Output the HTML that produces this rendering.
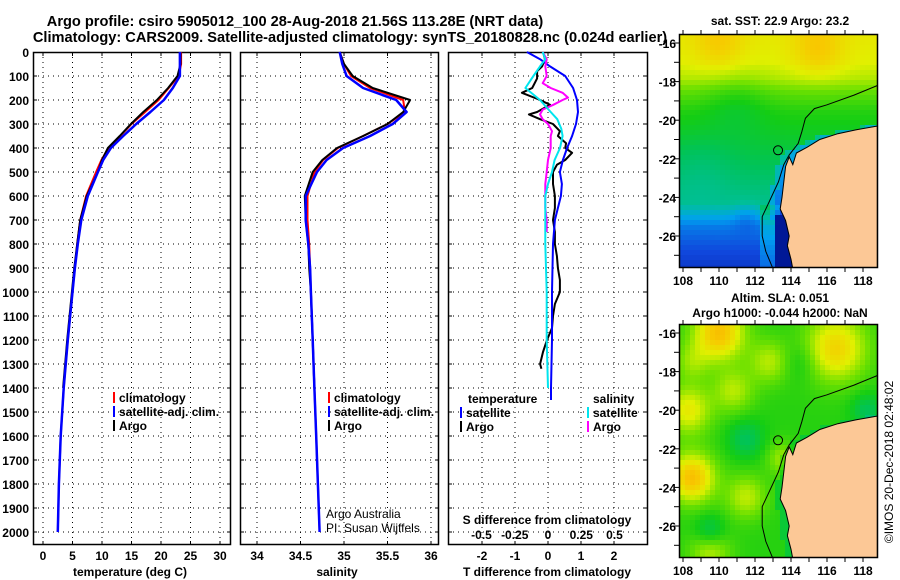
<!DOCTYPE html>
<html><head><meta charset="utf-8">
<style>
html,body{margin:0;padding:0;background:#fff;}
svg{display:block;font-family:"Liberation Sans",Arial,sans-serif;}
.b{font-weight:bold;font-size:12px;fill:#000;}
.t{font-weight:bold;font-size:14.6px;fill:#000;}
</style></head>
<body>
<svg id="s" width="900" height="580" viewBox="0 0 900 580" xmlns="http://www.w3.org/2000/svg">
<text class="t" x="295" y="26" text-anchor="middle">Argo profile: csiro 5905012_100 28-Aug-2018 21.56S 113.28E (NRT data)</text>
<text class="t" x="350" y="42" text-anchor="middle">Climatology: CARS2009. Satellite-adjusted climatology: synTS_20180828.nc (0.024d earlier)</text>
<g id="g"></g>
</svg>
<script>
// ---- data ----
const depths = [0,50,100,150,200,250,300,350,400,450,500,600,700,800,900,1000,1200,1400,1600,1800,2000];
const tempClim = [23.4,23.4,23.0,21.3,19.6,17.3,15.0,13.1,11.1,9.9,9.0,7.3,6.3,5.8,5.4,5.0,4.2,3.5,3.0,2.7,2.5];
const tempSat  = [23.2,23.2,23.2,22.0,20.5,18.2,15.8,13.6,11.5,10.2,9.3,7.6,6.5,5.9,5.4,5.0,4.2,3.5,3.0,2.7,2.5];
const argoDepths = [0,50,100,150,200,250,300,350,400,450,500,600,700,800,900,1000,1200,1400];
const tempArgo = [23.3,23.3,22.8,21.2,19.3,17.0,14.9,13.0,11.0,10.0,9.3,7.4,6.3,5.8,5.3,4.9,4.1,3.4];
const salClim = [34.95,35.0,35.08,35.3,35.68,35.7,35.5,35.22,34.93,34.76,34.66,34.58,34.58,34.6,34.61,34.62,34.64,34.66,34.68,34.70,34.72];
const salSat  = [34.95,34.98,35.03,35.22,35.6,35.72,35.56,35.3,34.99,34.8,34.69,34.56,34.56,34.59,34.61,34.62,34.64,34.66,34.68,34.70,34.72];
const salArgo = [34.95,35.0,35.1,35.33,35.76,35.68,35.5,35.22,34.92,34.75,34.64,34.55,34.56,34.59,34.6,34.62,34.64,34.66];
const dDepthsT = [0,30,60,100,150,200,250,300,350,400,450,500,550,600,650,700,800,1000,1200,1400,1450];
const dTempSat = [-0.64,-0.24,0.06,0.52,0.76,0.88,0.91,0.85,0.73,0.58,0.45,0.36,0.42,0.39,0.3,0.21,0.15,0.12,0.12,0.09,0.09];
const dDepthsA = [0,30,60,80,110,150,170,200,220,250,260,280,300,330,350,380,400,420,450,470,500,550,600,650,700,750,800,850,900,950,1000,1050,1100,1150,1200,1250,1300,1320];
const dTempArgo = [-0.15,-0.09,-0.18,-0.33,-0.33,-0.48,-0.79,-0.24,0.06,-0.33,-0.58,-0.24,0.15,0.36,0.3,0.55,0.52,0.73,0.52,0.27,0.15,0.15,0.21,0.21,0.15,0.21,0.21,0.27,0.3,0.36,0.36,0.21,0.15,0.12,-0.03,-0.15,-0.24,-0.2];
const dDepthsS = [0,30,60,100,150,200,250,280,320,350,400,450,500,550,600,700,800,1000,1200,1400];
const dSalSat = [-0.04,-0.02,-0.06,-0.11,-0.17,-0.06,0.02,0.07,0.1,0.11,0.09,0.05,0.03,0.0,-0.02,-0.02,-0.02,-0.01,-0.01,0.0];
const dDepthsSA = [0,30,60,100,130,150,170,190,200,220,240,260,280,300,330,350,400,450,500,550,600,650,700,750];
const dSalArgo = [-0.04,-0.01,-0.02,-0.01,-0.04,0.02,0.11,0.15,0.11,0.04,-0.04,-0.06,-0.04,0.0,0.03,0.02,0.02,0.0,-0.01,-0.02,-0.02,-0.02,-0.01,-0.01];
const depthTicks = [0,100,200,300,400,500,600,700,800,900,1000,1100,1200,1300,1400,1500,1600,1700,1800,1900,2000];
const tempTicks = [0,5,10,15,20,25,30];
const salTicks = [34,34.5,35,35.5,36];
const dtTicks = [-2,-1,0,1,2];
const dsTicks = [-0.5,-0.25,0,0.25,0.5];
const dsTickLabels = ['-0.5','-0.25','0','0.25','0.5'];
const latTicks = [-16,-18,-20,-22,-24,-26];
const lonTicks = [108,110,112,114,116,118];

const NS='http://www.w3.org/2000/svg';
const G=document.getElementById('g');
function el(tag,attrs,parent,txt){const e=document.createElementNS(NS,tag);for(const k in attrs)e.setAttribute(k,attrs[k]);if(txt!==undefined)e.textContent=txt;(parent||G).appendChild(e);return e;}
const yD = d => 52 + 0.24*d;
const xT = v => 43 + 5.9*v;
const xS = v => 257 + 87*(v-34);
const xDT = v => 548 + 33*v;
const xDS = v => 548 + 133*v;

function panel(x0,x1,name,grid){
  const g=el('g',{});
  
  
  depthTicks.slice(1).forEach(d=>{
    const l=el('line',{x1:x0,x2:x1,y1:yD(d),y2:yD(d),stroke:'#000','stroke-width':1,'stroke-dasharray':'1,4'},g);
    
    
    el('line',{x1:x0,x2:x0+4,y1:yD(d),y2:yD(d),stroke:'#000'},g);
    el('line',{x1:x1-4,x2:x1,y1:yD(d),y2:yD(d),stroke:'#000'},g);
  });
  grid.forEach(x=>{
    const l=el('line',{x1:x,x2:x,y1:52,y2:545,stroke:'#000','stroke-width':1,'stroke-dasharray':'1,4'},g);
    
    
    el('line',{x1:x,x2:x,y1:52,y2:56,stroke:'#000'},g);
    el('line',{x1:x,x2:x,y1:541,y2:545,stroke:'#000'},g);
  });
  const r=el('rect',{x:x0+0.5,y:52.5,width:x1-x0-1,height:492,fill:'none',stroke:'#000','stroke-width':1.5},g);
  
  
  return g;
}
function line(xs,ds,fx,color,w,name,parent){
  const pts=xs.map((v,i)=>fx(v).toFixed(1)+','+yD(ds[i]).toFixed(1)).join(' ');
  const p=el('polyline',{points:pts,fill:'none',stroke:color,'stroke-width':w,'stroke-linejoin':'round'},parent);
  
  
}
function txt(x,y,s,anchor,cls,name,parent,extra){
  const t=el('text',Object.assign({x:x,y:y,'text-anchor':anchor||'start',class:cls||'b'},extra||{}),parent,s);
  
  
  return t;
}
depthTicks.forEach(d=>{txt(29,yD(d)+5,String(d),'end','b','depth-tick-label');});

const p1=panel(33,231,'temperature-panel',tempTicks.map(xT));
line(tempClim,depths,xT,'#ff0000',2,'temperature-climatology-line',p1);
line(tempArgo,argoDepths,xT,'#000',2,'temperature-argo-line',p1);
line(tempSat,depths,xT,'#0000ff',2.5,'temperature-satellite-line',p1);
tempTicks.forEach(v=>txt(xT(v),560,String(v),'middle','b','temperature-tick-label'));
txt(130,576,'temperature (deg C)','middle','b','x-axis-title-temperature');

const p2=panel(240,439,'salinity-panel',salTicks.map(xS));
line(salClim,depths,xS,'#ff0000',2,'salinity-climatology-line',p2);
line(salArgo,argoDepths,xS,'#000',2,'salinity-argo-line',p2);
line(salSat,depths,xS,'#0000ff',2.5,'salinity-satellite-line',p2);
salTicks.forEach(v=>txt(xS(v),560,String(v),'middle','b','salinity-tick-label'));
txt(337,576,'salinity','middle','b','x-axis-title-salinity');
txt(326,518,'Argo Australia','start','b','credit-argo-australia',null,{style:'font-weight:normal'});
txt(326,532,'PI: Susan Wijffels','start','b','credit-pi',null,{style:'font-weight:normal'});

function legend(x,y,color,label,name){
  const g=el('g',{});
  
  
  el('rect',{x:x,y:y-10,width:2,height:11,fill:color},g);
  txt(x+6,y,label,'start','b',name+'-label',g);
}
[[113,'#ff0000','climatology'],[113,'#0000ff','satellite-adj. clim.'],[113,'#000','Argo']].forEach((a,i)=>legend(a[0],402+i*14,a[1],a[2],'temp-legend-entry'));
[[328,'#ff0000','climatology'],[328,'#0000ff','satellite-adj. clim.'],[328,'#000','Argo']].forEach((a,i)=>legend(a[0],402+i*14,a[1],a[2],'sal-legend-entry'));

const p3=panel(448,648,'difference-panel',dtTicks.map(xDT));
line(dTempArgo,dDepthsA,xDT,'#000',2,'temp-diff-argo-line',p3);
line(dTempSat,dDepthsT,xDT,'#0000ff',2,'temp-diff-satellite-line',p3);
line(dSalArgo,dDepthsSA,xDS,'#ff00ff',2,'sal-diff-argo-line',p3);
line(dSalSat,dDepthsS,xDS,'#00e5ee',2,'sal-diff-satellite-line',p3);
txt(468,403,'temperature','start','b','legend-heading-temperature');
txt(593,403,'salinity','start','b','legend-heading-salinity');
legend(460,417,'#0000ff','satellite','diff-legend-temp-satellite');
legend(460,431,'#000','Argo','diff-legend-temp-argo');
legend(587,417,'#00e5ee','satellite','diff-legend-sal-satellite');
legend(587,431,'#ff00ff','Argo','diff-legend-sal-argo');
txt(547,524,'S difference from climatology','middle','b','s-diff-axis-title');
dsTicks.forEach((v,i)=>txt(xDS(v),539,dsTickLabels[i],'middle','b','s-diff-tick-label'));
dtTicks.forEach(v=>txt(xDT(v),560,String(v),'middle','b','t-diff-tick-label'));
txt(547,576,'T difference from climatology','middle','b','t-diff-axis-title');

// ---- maps ----
const coast=[[118.8,-20.3],[117.6,-20.5],[116.6,-20.7],[115.6,-21.0],[114.9,-21.4],[114.3,-21.7],[114.1,-22.3],[113.9,-21.9],[113.7,-22.4],[113.6,-23.2],[113.5,-24.0],[113.4,-24.6],[113.7,-25.2],[113.9,-26.0],[113.8,-26.5],[114.0,-27.2],[114.1,-27.7],[118.8,-27.7]];
const shelf=[[118.8,-18.2],[117.5,-18.7],[116,-19.2],[115.3,-19.4],[114.8,-19.9],[114.6,-20.6],[114.4,-21.2],[113.9,-21.8],[113.6,-22.3],[113.3,-23.2],[112.8,-24.2],[112.4,-25.0],[112.4,-26.0],[112.6,-26.8],[113.0,-27.7]];
function cmap(v){
  const st=[[0,[0,24,150]],[0.15,[16,70,220]],[0.3,[0,160,240]],[0.42,[0,190,160]],[0.52,[0,195,90]],[0.6,[20,205,20]],[0.7,[110,225,0]],[0.8,[225,240,0]],[0.9,[248,200,0]],[1,[248,160,0]]];
  v=Math.max(0,Math.min(1,v));
  for(let i=1;i<st.length;i++){if(v<=st[i][0]){const a=st[i-1],b=st[i],f=(v-a[0])/(b[0]-a[0]);return 'rgb('+a[1].map((c,j)=>Math.round(c+(b[1][j]-c)*f)).join(',')+')';}}
  return 'rgb(248,160,0)';
}
function gs(lon,lat,cx,cy,s){return Math.exp(-((lon-cx)**2+(lat-cy)**2)/(2*s*s));}
function coastLon(lat){
  if(lat>-20.3)return 999;
  const c=[[118.8,-20.3],[116.6,-20.7],[115.6,-21.0],[114.9,-21.4],[114.3,-21.7],[113.8,-22.3],[113.6,-23.2],[113.5,-24.0],[113.4,-24.6],[113.6,-25.2],[113.8,-26.5],[114.1,-27.8]];
  for(let i=1;i<c.length;i++){const a=c[i-1],b=c[i];if(lat<=a[1]&&lat>=b[1])return a[0]+(b[0]-a[0])*(lat-a[1])/(b[1]-a[1]);}
  return 999;
}
function sst(lon,lat){
  const L=[[-15,0.83],[-17,0.8],[-17.8,0.76],[-18.6,0.68],[-19.5,0.62],[-21,0.57],[-22.5,0.52],[-23.5,0.48],[-24.3,0.45],[-24.8,0.36],[-25.5,0.24],[-26.5,0.17],[-27.8,0.1]];
  let v=0.5;for(let i=1;i<L.length;i++){if(lat<=L[i-1][0]&&lat>=L[i][0]){v=L[i-1][1]+(L[i][1]-L[i-1][1])*(lat-L[i-1][0])/(L[i][0]-L[i-1][0]);}}
  v+=0.08*gs(lon,lat,110,-16,1)+0.09*gs(lon,lat,115.5,-16.3,1)-0.05*gs(lon,lat,111,-19,1.2)-0.06*gs(lon,lat,111.5,-25,0.5)-0.04*gs(lon,lat,109,-22.5,1.2);
  if(lat<-24.5&&lon>112.2&&lon<113.5)v+=0.1;
  const cl=coastLon(lat);
  if(lon>cl-0.6)v-=0.12;
  if(lon>cl-0.3)v-=0.1;
  if(lon>113&&lat<-25)v-=0.25;
  return v;
}
function sla(lon,lat){
  let v=0.62;
  v+=0.3*gs(lon,lat,110,-16,1)+0.25*gs(lon,lat,116.5,-16.8,1.2)+0.2*gs(lon,lat,108.3,-20,0.9)+0.3*gs(lon,lat,108.5,-23.5,0.9)
   +0.14*gs(lon,lat,110.8,-19,0.8)+0.14*gs(lon,lat,112.8,-17.5,0.8)+0.15*gs(lon,lat,111.5,-24.5,0.8)+0.15*gs(lon,lat,109.5,-27.3,0.8)+0.12*gs(lon,lat,113.5,-22.5,0.6)+0.1*gs(lon,lat,108.5,-17.5,0.7)
   -0.1*gs(lon,lat,111.5,-21.5,0.7)-0.12*gs(lon,lat,109.5,-26.3,0.6)-0.06*gs(lon,lat,114.5,-17.5,0.7)-0.1*gs(lon,lat,118.2,-20,0.6);
  if(lon>coastLon(lat)-0.3)v-=0.06;
  return v;
}
function map(oy,field,name,clipId){
  const px=lon=>683+18*(lon-108), py=lat=>oy+43+19.3*(-16-lat);
  const g=el('g',{});
  
  
  const cp=el('clipPath',{id:clipId},g);
  el('rect',{x:680,y:oy+35,width:197,height:232},cp);
  const cg=el('g',{'clip-path':'url(#'+clipId+')'},g);
  const step=5;
  for(let x=680;x<877;x+=step)for(let y=oy+35;y<oy+267;y+=step){
    const lon=108+(x+step/2-683)/18, lat=-16-(y+step/2-oy-43)/19.3;
    el('rect',{x:x,y:y,width:step,height:step,fill:cmap(field(lon,lat))},cg);
  }
  const land=el('polygon',{points:coast.map(p=>px(p[0]).toFixed(1)+','+py(p[1]).toFixed(1)).join(' '),fill:'#fcc896',stroke:'#000','stroke-width':1},cg);
  
  
  const sh=el('polyline',{points:shelf.map(p=>px(p[0]).toFixed(1)+','+py(p[1]).toFixed(1)).join(' '),fill:'none',stroke:'#000','stroke-width':1},cg);
  
  
  const c=el('circle',{cx:px(113.28),cy:py(-21.56),r:4.5,fill:'none',stroke:'#000','stroke-width':1},g);
  
  
  el('rect',{x:679.5,y:oy+34.5,width:198,height:233,fill:'none',stroke:'#000','stroke-width':1.5},g);
  for(let lat=-16;lat>=-27;lat--)el('line',{x1:674,x2:679,y1:py(lat),y2:py(lat),stroke:'#000'},g);
  for(let lon=108;lon<=118;lon++){el('line',{x1:px(lon),x2:px(lon),y1:oy+267,y2:oy+272,stroke:'#000'},g);el('line',{x1:px(lon),x2:px(lon),y1:oy+30,y2:oy+34,stroke:'#000'},g);}
  latTicks.forEach(l=>txt(676,py(l)+5,String(l),'end','b','latitude-label',g));
  lonTicks.forEach(l=>txt(px(l),oy+285,String(l),'middle','b','longitude-label',g));
}
map(0,sst,'sst-map','clipA');
map(290,sla,'sla-map','clipB');
txt(780,25,'sat. SST: 22.9 Argo: 23.2','middle','b','sst-map-title');
txt(780,302,'Altim. SLA: 0.051','middle','b','sla-map-title');
txt(780,317,'Argo h1000: -0.044 h2000: NaN','middle','b','sla-map-subtitle');
txt(0,0,'©IMOS 20-Dec-2018 02:48:02','middle','b','copyright-timestamp',null,{transform:'translate(893,462) rotate(-90)',style:'font-weight:normal'});
</script>
</body></html>
